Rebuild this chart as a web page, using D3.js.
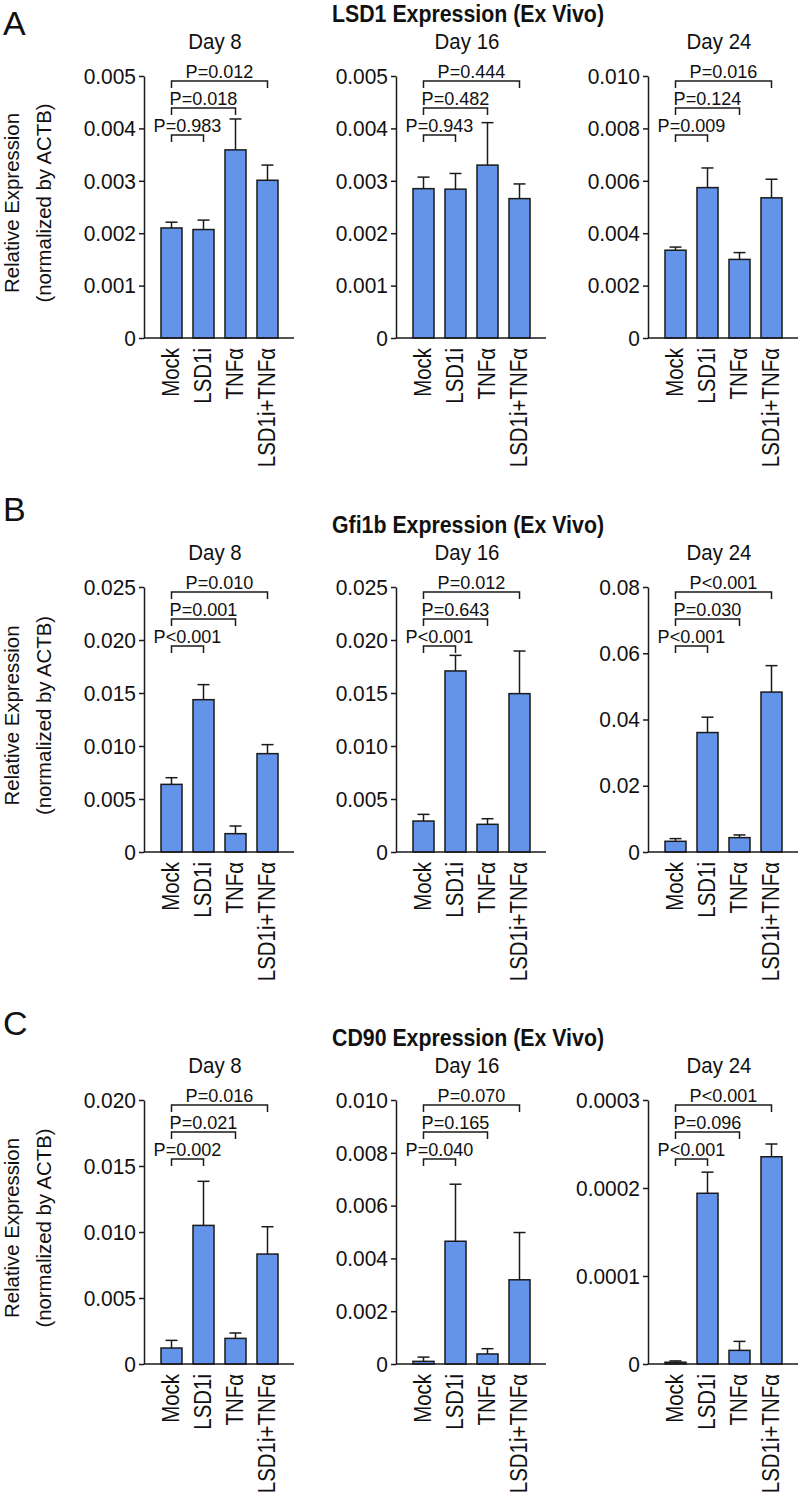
<!DOCTYPE html>
<html><head><meta charset="utf-8">
<script src="https://cdn.jsdelivr.net/npm/d3@7"></script>
<style>
body{margin:0;background:#fff}
svg{display:block}
text{font-family:"Liberation Sans",Arial,Helvetica,sans-serif;fill:#111}
</style>
</head><body>
<svg id="chart" width="800" height="1496"></svg>
<script>
// ---------- DATA ----------
const categories = ["Mock", "LSD1i", "TNFα", "LSD1i+TNFα"];
const days = ["Day 8", "Day 16", "Day 24"];
const geneTitles = ["LSD1 Expression (Ex Vivo)", "Gfi1b Expression (Ex Vivo)", "CD90 Expression (Ex Vivo)"];
const panelLetters = ["A", "B", "C"];
const yLabelLines = ["Relative Expression", "(normalized by ACTB)"];

// LSD1
const lsd1Day8 = [0.00210, 0.00207, 0.00359, 0.00301];
const lsd1Day8Err = [0.00011, 0.00018, 0.00059, 0.00029];
const lsd1Day16 = [0.00285, 0.00284, 0.00330, 0.00266];
const lsd1Day16Err = [0.00022, 0.00030, 0.00081, 0.00028];
const lsd1Day24 = [0.00335, 0.00574, 0.00300, 0.00535];
const lsd1Day24Err = [0.00012, 0.00075, 0.00026, 0.00071];
// Gfi1b
const gfiDay8 = [0.00638, 0.01437, 0.00173, 0.00928];
const gfiDay8Err = [0.00063, 0.00142, 0.00072, 0.00085];
const gfiDay16 = [0.00292, 0.01708, 0.00261, 0.01494];
const gfiDay16Err = [0.00063, 0.00147, 0.00053, 0.00402];
const gfiDay24 = [0.00323, 0.03606, 0.00434, 0.04828];
const gfiDay24Err = [0.00081, 0.00464, 0.00081, 0.00798];
// CD90
const cd90Day8 = [0.00121, 0.01050, 0.00194, 0.00833];
const cd90Day8Err = [0.00058, 0.00334, 0.00041, 0.00207];
const cd90Day16 = [0.00010, 0.00465, 0.00038, 0.00319];
const cd90Day16Err = [0.00016, 0.00216, 0.00020, 0.00179];
const cd90Day24 = [0.0000020, 0.0001940, 0.0000155, 0.0002355];
const cd90Day24Err = [0.0000015, 0.0000240, 0.0000102, 0.0000145];

// tick values and labels
const lsd1Ticks8 = [0, 0.001, 0.002, 0.003, 0.004, 0.005];
const lsd1Labels8 = ["0", "0.001", "0.002", "0.003", "0.004", "0.005"];
const lsd1Ticks24 = [0, 0.002, 0.004, 0.006, 0.008, 0.010];
const lsd1Labels24 = ["0", "0.002", "0.004", "0.006", "0.008", "0.010"];
const gfiTicks8 = [0, 0.005, 0.010, 0.015, 0.020, 0.025];
const gfiLabels8 = ["0", "0.005", "0.010", "0.015", "0.020", "0.025"];
const gfiTicks24 = [0, 0.02, 0.04, 0.06, 0.08];
const gfiLabels24 = ["0", "0.02", "0.04", "0.06", "0.08"];
const cd90Ticks8 = [0, 0.005, 0.010, 0.015, 0.020];
const cd90Labels8 = ["0", "0.005", "0.010", "0.015", "0.020"];
const cd90Ticks16 = [0, 0.002, 0.004, 0.006, 0.008, 0.010];
const cd90Labels16 = ["0", "0.002", "0.004", "0.006", "0.008", "0.010"];
const cd90Ticks24 = [0, 0.0001, 0.0002, 0.0003];
const cd90Labels24 = ["0", "0.0001", "0.0002", "0.0003"];

// P values: Mock vs LSD1i, Mock vs TNFα, Mock vs LSD1i+TNFα
const lsd1P8 = ["P=0.983", "P=0.018", "P=0.012"];
const lsd1P16 = ["P=0.943", "P=0.482", "P=0.444"];
const lsd1P24 = ["P=0.009", "P=0.124", "P=0.016"];
const gfiP8 = ["P<0.001", "P=0.001", "P=0.010"];
const gfiP16 = ["P<0.001", "P=0.643", "P=0.012"];
const gfiP24 = ["P<0.001", "P=0.030", "P<0.001"];
const cd90P8 = ["P=0.002", "P=0.021", "P=0.016"];
const cd90P16 = ["P=0.040", "P=0.165", "P=0.070"];
const cd90P24 = ["P<0.001", "P=0.096", "P<0.001"];

const rows = [
  { means: [lsd1Day8, lsd1Day16, lsd1Day24], errs: [lsd1Day8Err, lsd1Day16Err, lsd1Day24Err],
    ticks: [lsd1Ticks8, lsd1Ticks8, lsd1Ticks24], labels: [lsd1Labels8, lsd1Labels8, lsd1Labels24],
    pvals: [lsd1P8, lsd1P16, lsd1P24] },
  { means: [gfiDay8, gfiDay16, gfiDay24], errs: [gfiDay8Err, gfiDay16Err, gfiDay24Err],
    ticks: [gfiTicks8, gfiTicks8, gfiTicks24], labels: [gfiLabels8, gfiLabels8, gfiLabels24],
    pvals: [gfiP8, gfiP16, gfiP24] },
  { means: [cd90Day8, cd90Day16, cd90Day24], errs: [cd90Day8Err, cd90Day16Err, cd90Day24Err],
    ticks: [cd90Ticks8, cd90Ticks16, cd90Ticks24], labels: [cd90Labels8, cd90Labels16, cd90Labels24],
    pvals: [cd90P8, cd90P16, cd90P24] }
];

// ---------- LAYOUT ----------
const colX = [144, 396, 648];
const rowTop = [76, 587, 1100];
const rowBase = [338, 852, 1364];
const letterY = [35, 521, 1035];
const bracketOffsets = [59, 32, 5];
const barFill = "#6394ea";
const ink = "#1a1a1a";

const svg = d3.select("#chart");

// narrow the glyphs of a text selection (mimics a condensed typeface)
function condense(sel, factor) {
  sel.each(function () {
    const w = this.getComputedTextLength();
    d3.select(this).attr("textLength", w * factor).attr("lengthAdjust", "spacingAndGlyphs");
  });
}

rows.forEach((row, r) => {
  const top = rowTop[r], base = rowBase[r];

  svg.append("text").attr("x", 3).attr("y", letterY[r])
    .style("font-size", "34px").text(panelLetters[r]);

  svg.append("text").attr("x", colX[1] + 72).attr("y", top - 54)
    .attr("text-anchor", "middle").style("font-size", "23px").style("font-weight", "bold")
    .attr("textLength", 272).attr("lengthAdjust", "spacingAndGlyphs")
    .text(geneTitles[r]);

  // y label
  const cy = (top + base) / 2 - 4;
  [19, 51].forEach((lx, i) => {
    svg.append("text").attr("transform", `translate(${lx},${cy}) rotate(-90)`)
      .attr("text-anchor", "middle").style("font-size", "21px").text(yLabelLines[i])
      .call(condense, 0.97);
  });

  days.forEach((day, c) => {
    const ax = colX[c];
    const ticks = row.ticks[c];
    const y = d3.scaleLinear().domain([0, ticks[ticks.length - 1]]).range([base, top]);
    const x = d3.scaleBand().domain(categories).range([ax + 1, ax + 150])
      .paddingInner(0.34375).paddingOuter(0.5);
    const g = svg.append("g");

    g.append("text").attr("x", ax + 71).attr("y", top - 27)
      .attr("text-anchor", "middle").style("font-size", "22px").text(day)
      .call(condense, 0.93);

    // y axis
    const yAxis = g.append("g").attr("transform", `translate(${ax},0)`)
      .call(d3.axisLeft(y).tickValues(ticks).tickFormat((d, i) => row.labels[c][i])
        .tickSize(5).tickSizeOuter(0).tickPadding(3));
    yAxis.select(".domain").attr("stroke", ink).attr("stroke-width", 1.5);
    yAxis.selectAll(".tick line").attr("stroke", ink).attr("stroke-width", 1.5);
    yAxis.selectAll(".tick text").style("font-size", "22.5px").attr("fill", "#111")
      .style("font-family", "'Liberation Sans',Arial,sans-serif")
      .call(condense, 0.93);

    // x axis labels
    const xAxis = g.append("g").attr("transform", `translate(0,${base})`)
      .call(d3.axisBottom(x).tickSize(0));
    xAxis.select(".domain").remove();
    xAxis.selectAll(".tick text")
      .attr("transform", "rotate(-90)").attr("x", -10).attr("y", 0).attr("dy", "0.33em")
      .attr("text-anchor", "end").style("font-size", "23.5px").attr("fill", "#111")
      .style("font-family", "'Liberation Sans',Arial,sans-serif")
      .call(condense, 0.87);

    // bars
    const data = categories.map((cat, i) => ({ cat, v: row.means[c][i], e: row.errs[c][i] }));
    g.selectAll("rect.bar").data(data).join("rect").attr("class", "bar")
      .attr("x", d => x(d.cat)).attr("y", d => y(d.v))
      .attr("width", x.bandwidth()).attr("height", d => base - y(d.v))
      .attr("fill", barFill).attr("stroke", ink).attr("stroke-width", 1.5);

    // error bars
    data.forEach(d => {
      const cx = x(d.cat) + x.bandwidth() / 2;
      g.append("line").attr("x1", cx).attr("x2", cx).attr("y1", y(d.v)).attr("y2", y(d.v + d.e))
        .attr("stroke", ink).attr("stroke-width", 1.5);
      g.append("line").attr("x1", cx - 6).attr("x2", cx + 6).attr("y1", y(d.v + d.e)).attr("y2", y(d.v + d.e))
        .attr("stroke", ink).attr("stroke-width", 1.5);
    });

    // x baseline
    g.append("line").attr("x1", ax).attr("x2", ax + 150).attr("y1", base).attr("y2", base)
      .attr("stroke", ink).attr("stroke-width", 1.5);

    // significance brackets
    const x1 = x(categories[0]) + x.bandwidth() / 2;
    row.pvals[c].forEach((p, k) => {
      const x2 = x(categories[k + 1]) + x.bandwidth() / 2;
      const ly = top + bracketOffsets[k];
      g.append("path").attr("d", `M${x1},${ly + 7}V${ly}H${x2}V${ly + 7}`)
        .attr("fill", "none").attr("stroke", ink).attr("stroke-width", 1.5);
      g.append("text").attr("x", (x1 + x2) / 2).attr("y", ly - 3)
        .attr("text-anchor", "middle").style("font-size", "19px").text(p)
        .call(condense, 0.95);
    });
  });
});
</script>
</body></html>
